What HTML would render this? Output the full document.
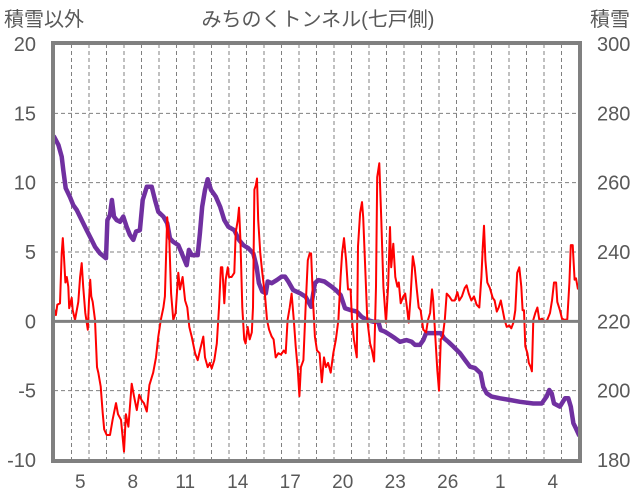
<!DOCTYPE html>
<html><head><meta charset="utf-8">
<style>
html,body{margin:0;padding:0;background:#fff;}
svg{display:block;font-family:"Liberation Sans","Noto Sans CJK JP",sans-serif;}
</style></head>
<body>
<svg id="chart" width="636" height="501" viewBox="0 0 636 501" xmlns="http://www.w3.org/2000/svg">
<text x="318" y="26" text-anchor="middle" font-size="20" fill="#595959">みちのくトンネル(七戸側)</text>
<text x="4" y="26" font-size="20" fill="#595959">積雪以外</text>
<text x="590" y="26" font-size="20" fill="#595959">積雪</text>
<g id="grid"></g>
<g id="series"></g>
<g id="axes"></g>
</svg>
<script>
const leftTicks = [20, 15, 10, 5, 0, -5, -10];
const rightTicks = [300, 280, 260, 240, 220, 200, 180];
const dayLabels = ["5", "8", "11", "14", "17", "20", "23", "26", "1", "4"];
const dayLabelIdx = [1, 4, 7, 10, 13, 16, 19, 22, 25, 28];
const dayCount = 30;

const redT = [0,0.11,0.19,0.34,0.44,0.5,0.57,0.65,0.73,0.82,0.87,1.01,1.07,1.2,1.39,1.49,1.58,1.67,1.79,1.93,2.0,2.07,2.13,2.21,2.34,2.46,2.53,2.67,2.78,2.87,3.01,3.2,3.35,3.54,3.66,3.83,4.0,4.11,4.25,4.44,4.57,4.73,4.87,5.01,5.14,5.3,5.45,5.67,5.83,5.96,6.1,6.25,6.34,6.47,6.59,6.69,6.82,6.95,7.1,7.2,7.35,7.49,7.62,7.73,7.87,8.06,8.21,8.34,8.53,8.63,8.78,8.91,9.01,9.16,9.3,9.43,9.54,9.62,9.73,9.81,9.93,10.0,10.15,10.3,10.38,10.5,10.57,10.65,10.76,10.87,10.95,11.07,11.18,11.3,11.37,11.45,11.53,11.6,11.67,11.79,11.9,12.06,12.17,12.29,12.44,12.55,12.67,12.82,12.97,13.13,13.24,13.35,13.47,13.58,13.7,13.81,13.93,14.02,14.11,14.25,14.38,14.5,14.61,14.69,14.8,14.91,15.03,15.18,15.3,15.43,15.54,15.66,15.81,15.96,16.11,16.25,16.38,16.46,16.57,16.69,16.8,16.95,17.03,17.14,17.3,17.37,17.49,17.6,17.67,17.79,17.9,18.06,18.17,18.29,18.4,18.47,18.59,18.7,18.82,18.97,19.09,19.2,19.27,19.39,19.5,19.62,19.7,19.81,19.96,20.07,20.19,20.27,20.38,20.5,20.61,20.73,20.84,20.95,21.1,21.26,21.37,21.49,21.6,21.67,21.79,21.9,22.0,22.1,22.21,22.33,22.44,22.59,22.74,22.9,23.05,23.16,23.31,23.47,23.58,23.7,23.85,24.0,24.15,24.3,24.42,24.5,24.57,24.65,24.76,24.91,25.07,25.18,25.3,25.41,25.53,25.64,25.75,25.87,26.02,26.13,26.25,26.36,26.47,26.59,26.7,26.78,26.86,26.93,27.05,27.13,27.24,27.31,27.39,27.5,27.62,27.73,27.89,28.04,28.19,28.34,28.46,28.57,28.69,28.76,28.91,29.03,29.18,29.33,29.45,29.53,29.64,29.75,29.83,29.94];
const redV = [0.9,0.45,1.2,1.3,4.9,6.0,4.6,2.8,3.2,2.5,0.95,1.7,0.8,0.1,1.4,3.2,4.2,2.5,0.6,-0.6,1.5,3.0,1.8,1.4,0.1,-3.3,-3.7,-4.7,-6.6,-7.8,-8.2,-8.2,-7.1,-5.9,-6.7,-7.1,-9.4,-6.7,-7.6,-4.5,-5.4,-6.4,-5.3,-5.7,-5.9,-6.5,-4.6,-3.7,-2.6,-1.1,0.1,1.0,1.8,7.5,5.9,2.0,0.1,0.6,3.5,2.3,3.2,1.5,1.0,-0.4,-1.1,-2.3,-2.8,-2.1,-1.1,-2.6,-3.3,-3.0,-3.4,-2.8,-1.6,1.0,3.9,3.9,1.3,3.0,3.9,3.2,3.2,3.5,6.4,7.3,8.2,5.9,1.0,-1.3,-1.6,-0.4,-1.3,-0.8,1.0,9.5,9.8,10.3,7.3,4.9,3.5,1.8,0.1,-0.6,-1.1,-1.3,-2.6,-2.3,-2.4,-2.1,-2.3,0.1,1.0,2.0,0.1,-1.8,-3.5,-5.4,-3.3,-2.8,1.0,4.4,4.9,4.9,1.5,-1.1,-2.1,-2.3,-4.4,-2.6,-3.3,-3.0,-3.7,-2.3,-1.3,0.1,3.2,4.9,6.0,4.4,2.3,2.3,0.1,-1.3,-2.6,5.4,7.8,8.6,7.5,3.7,0.1,-1.6,-2.1,-2.9,2.5,10.4,11.4,7.3,2.5,-0.1,2.5,6.8,3.9,5.6,3.2,2.5,2.8,1.3,1.8,2.0,0.8,-0.1,1.8,4.7,3.9,2.3,1.0,0.8,-0.6,-0.8,0.1,0.6,2.3,1.5,-1.1,-3.5,-5.0,-1.3,-1.1,0.1,2.0,1.8,1.5,1.5,2.1,1.5,1.8,2.4,2.6,2.0,1.5,1.8,1.2,1.0,3.2,5.4,6.9,4.4,2.8,2.4,1.7,1.5,0.7,1.0,1.5,0.8,0.1,-0.4,-0.3,-0.5,-0.1,0.8,3.5,3.9,2.5,0.8,0.8,-1.8,-2.3,-3.0,-3.3,-3.6,0.1,0.6,1.0,0.1,0.2,-0.05,0.1,0.6,1.5,2.8,2.8,1.4,0.8,0.2,0.1,0.15,2.8,5.5,5.5,3.0,3.1,2.3];

const snowT = [0,0.25,0.44,0.53,0.67,0.91,1.1,1.3,1.58,1.87,2.15,2.34,2.63,2.97,3.05,3.2,3.31,3.43,3.58,3.77,3.96,4.15,4.34,4.53,4.69,4.91,5.07,5.3,5.58,5.77,5.96,6.25,6.47,6.63,6.82,7.1,7.3,7.58,7.71,7.87,8.21,8.34,8.47,8.63,8.78,8.97,9.24,9.49,9.73,9.96,10.3,10.57,10.82,11.1,11.39,11.58,11.71,11.9,12.1,12.21,12.44,12.73,13.01,13.2,13.39,13.67,14.06,14.38,14.69,14.91,15.1,15.45,15.87,16.11,16.38,16.5,16.63,16.91,17.3,17.58,17.87,18.25,18.53,18.67,18.91,19.2,19.49,19.77,20.15,20.44,20.63,20.91,21.1,21.26,22.1,22.29,22.53,22.82,23.2,23.49,23.77,24.06,24.38,24.53,24.73,25.01,25.49,26.06,26.63,27.39,27.87,28.15,28.3,28.44,28.57,28.91,29.2,29.39,29.53,29.68,29.83,30.0];
const snowV = [273.3,270.9,267.5,263.6,258.4,255.9,253.5,252.1,249.2,246.3,243.5,241.5,239.6,238.2,249.2,250.7,255.0,250.2,249.2,248.7,250.2,247.3,244.9,243.5,245.9,246.3,255.0,258.8,258.8,255.0,251.6,250.2,248.3,243.9,242.9,242.0,239.6,236.2,240.6,239.1,239.1,245.4,253.1,257.9,261.0,257.9,256.0,253.1,249.2,247.3,246.3,243.5,242.0,241.1,239.6,235.7,231.0,228.6,228.1,231.5,231.0,231.9,232.9,232.9,231.5,229.0,228.1,227.1,224.2,231.0,231.9,231.5,230.0,229.0,227.6,225.7,223.8,223.3,222.8,221.3,220.4,219.9,219.9,217.5,217.0,216.1,215.1,214.1,214.6,214.1,213.2,213.2,214.6,216.6,216.6,215.1,214.1,212.7,210.8,208.8,206.9,206.5,205.0,201.1,199.2,198.3,197.8,197.3,196.8,196.3,196.3,198.3,200.2,199.2,196.3,195.4,197.8,197.8,195.4,190.6,189.1,187.2];

const NS = "http://www.w3.org/2000/svg";
const PL = 54, PR = 579, PT = 44, PB = 460;
const xScale = d => PL + d * (PR - PL) / dayCount;
const yLeft = v => PT + (20 - v) * (PB - PT) / 30;
const yRight = v => PT + (300 - v) * (PB - PT) / 120;
function mk(tag, attrs, parent) {
  const e = document.createElementNS(NS, tag);
  for (const k in attrs) e.setAttribute(k, attrs[k]);
  parent.appendChild(e);
  return e;
}
const grid = document.getElementById("grid");
const axes = document.getElementById("axes");
const series = document.getElementById("series");

for (let i = 1; i < dayCount; i++) {
  const x = xScale(i);
  const l = mk("line", {x1: x, x2: x, y1: PT, y2: PB, stroke: "#808080", "stroke-width": 1, "stroke-dasharray": "4,3"}, grid);
  
  
}
leftTicks.forEach(v => {
  const y = yLeft(v);
  if (v !== 20 && v !== -10 && v !== 0) {
    const l = mk("line", {x1: PL, x2: PR, y1: y, y2: y, stroke: "#808080", "stroke-width": 1, "stroke-dasharray": "4,3"}, grid);
    
    
  }
  const t = mk("text", {x: 36, y: y + 7, "text-anchor": "end", "font-size": 20, fill: "#595959"}, axes);
  t.textContent = v;
  
  
});
rightTicks.forEach(v => {
  const t = mk("text", {x: 597, y: yRight(v) + 7, "font-size": 20, fill: "#595959"}, axes);
  t.textContent = v;
  
  
});
dayLabels.forEach((s, i) => {
  const t = mk("text", {x: xScale(dayLabelIdx[i] + 0.5), y: 488, "text-anchor": "middle", "font-size": 19, fill: "#595959"}, axes);
  t.textContent = s;
  
  
});
const zero = mk("line", {x1: PL, x2: PR, y1: yLeft(0), y2: yLeft(0), stroke: "#808080", "stroke-width": 3}, axes);


const frame = mk("rect", {x: PL - 1, y: PT - 1, width: PR - PL + 2, height: PB - PT + 2, fill: "none", stroke: "#808080", "stroke-width": 4}, axes);



const snowPts = snowT.map((t, i) => xScale(t).toFixed(1) + "," + yRight(snowV[i]).toFixed(1)).join(" ");
const snow = mk("polyline", {points: snowPts, fill: "none", stroke: "#7030A0", "stroke-width": 4.5, "stroke-linejoin": "round", "stroke-linecap": "round"}, series);


const redPts = redT.map((t, i) => xScale(t).toFixed(1) + "," + yLeft(redV[i]).toFixed(1)).join(" ");
const red = mk("polyline", {points: redPts, fill: "none", stroke: "#FF0000", "stroke-width": 2, "stroke-linejoin": "round"}, series);


</script>
</body></html>
